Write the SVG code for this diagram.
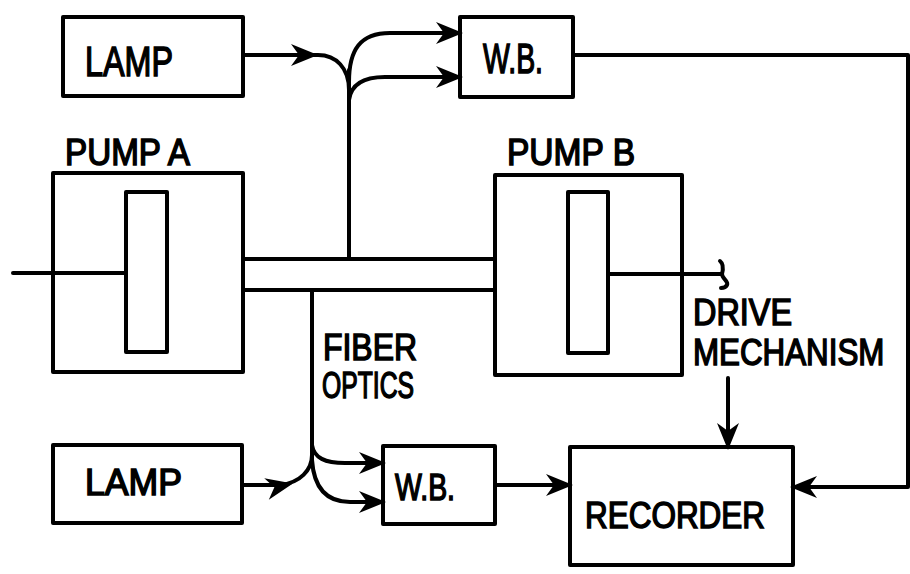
<svg xmlns="http://www.w3.org/2000/svg" xmlns:xlink="http://www.w3.org/1999/xlink" width="910" height="574" viewBox="0 0 910 574">
<style>
.box{fill:none;stroke:#000;stroke-width:4;stroke-linejoin:round}
.ln{fill:none;stroke:#000;stroke-width:4;stroke-linecap:round;stroke-linejoin:round}
.t{font-family:"Liberation Sans",Arial,sans-serif;fill:#000;stroke:#000;stroke-width:1.5}
.l{font-size:42px}
.m{font-size:36px}
</style>
<defs>
<path id="ah" d="M3,0 L-24,-11 L-16,0 L-24,11 Z" fill="#000"/>
</defs>
<rect width="910" height="574" fill="#fff"/>
<g id="lamp-top">
<rect class="box" x="63" y="17" width="180" height="79"/>
<text class="t l" x="85" y="76" textLength="88" lengthAdjust="spacingAndGlyphs">LAMP</text>
</g>
<g id="wb-top">
<rect class="box" x="460" y="17" width="113" height="80"/>
<text class="t l" x="483" y="73" textLength="60" lengthAdjust="spacingAndGlyphs">W.B.</text>
</g>
<g id="pump-a">
<text class="t m" x="65" y="165" textLength="125" lengthAdjust="spacingAndGlyphs">PUMP A</text>
<rect class="box" x="53" y="173" width="190" height="199"/>
<rect class="box" x="126" y="192" width="41" height="160"/>
</g>
<g id="pump-b">
<text class="t m" x="507" y="165" textLength="128" lengthAdjust="spacingAndGlyphs">PUMP  B</text>
<rect class="box" x="495" y="175" width="187" height="200"/>
<rect class="box" x="568" y="192" width="40" height="161"/>
</g>
<g id="fiber-optics-label">
<text class="t m" x="323" y="360" textLength="94" lengthAdjust="spacingAndGlyphs">FIBER</text>
<text class="t m" x="322" y="398" textLength="92" lengthAdjust="spacingAndGlyphs">OPTICS</text>
</g>
<g id="drive-mechanism">
<text class="t m" x="693" y="325" textLength="99" lengthAdjust="spacingAndGlyphs">DRIVE</text>
<text class="t m" transform="translate(693,365) scale(0.87,1)" x="0" y="0">MECHANISM</text>
</g>
<g id="lamp-bottom">
<rect class="box" x="53" y="445" width="189" height="78"/>
<text class="t m" x="85" y="495" textLength="97" lengthAdjust="spacingAndGlyphs">LAMP</text>
</g>
<g id="wb-bottom">
<rect class="box" x="383" y="446" width="112" height="78"/>
<text class="t m" x="395" y="500" textLength="60" lengthAdjust="spacingAndGlyphs">W.B.</text>
</g>
<g id="recorder">
<rect class="box" x="570" y="447" width="223" height="118"/>
<text class="t m" x="585" y="528" textLength="180" lengthAdjust="spacingAndGlyphs">RECORDER</text>
</g>
<g id="connectors">
<path class="ln" d="M13,273 L126,273"/>
<path class="ln" d="M243,259 L495,259 M243,290 L495,290"/>
<path class="ln" d="M608,274 L722,274"/>
<path class="ln" d="M720,261 C724,264 723,270 722,274 C722,279 729,281 727,285 C726,287 723,288 721,288" stroke-width="3"/>
<path class="ln" d="M349,259 L349,70"/>
<path class="ln" d="M243,55 L318,55 C336,55 349,68 349,90"/>
<path class="ln" d="M349,82 C349,50 360,33 390,33 L455,33"/>
<path class="ln" d="M349,100 C351,85 362,77 385,77 L455,77"/>
<path class="ln" d="M573,55 L908,55 L908,487 L798,487"/>
<path class="ln" d="M728,378 L728,442"/>
<path class="ln" d="M312,290 L312,465"/>
<path class="ln" d="M242,485 L280,485 C300,483 312,470 312,455"/>
<path class="ln" d="M312,445 C314,458 325,463 345,463 L378,463"/>
<path class="ln" d="M312,460 C314,490 328,502 350,502 L378,502"/>
<path class="ln" d="M495,485 L565,485"/>
<use xlink:href="#ah" transform="translate(315,55)"/>
<use xlink:href="#ah" transform="translate(460,33)"/>
<use xlink:href="#ah" transform="translate(460,77)"/>
<use xlink:href="#ah" transform="translate(793,487) rotate(180)"/>
<use xlink:href="#ah" transform="translate(728,447) rotate(90)"/>
<use xlink:href="#ah" transform="translate(290,484) rotate(-12)"/>
<use xlink:href="#ah" transform="translate(383,463)"/>
<use xlink:href="#ah" transform="translate(383,502)"/>
<use xlink:href="#ah" transform="translate(570,485)"/>
</g>
</svg>
